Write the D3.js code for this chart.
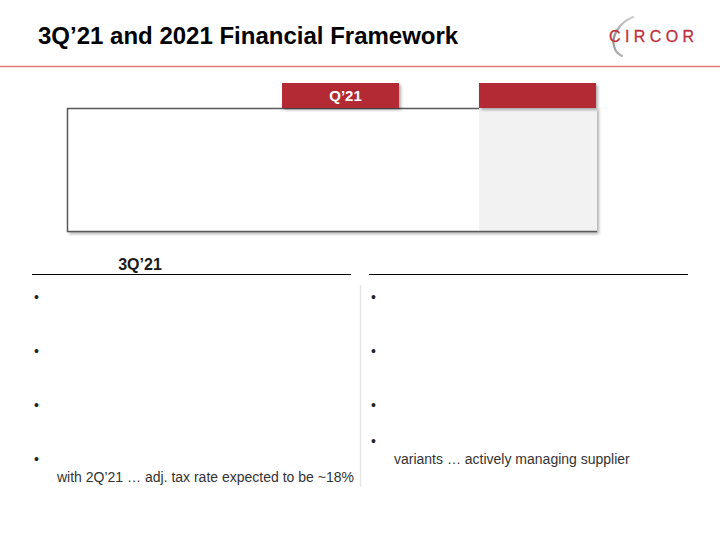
<!DOCTYPE html>
<html>
<head>
<meta charset="utf-8">
<script src="https://cdn.jsdelivr.net/npm/d3@7"></script>
<style>
  body { margin: 0; background: #fff; }
  svg { display: block; }
  text { font-family: Arial, "Liberation Sans", sans-serif; }
</style>
</head>
<body>
<svg width="720" height="540"></svg>
<script>
var title = "3Q\u201921 and 2021 Financial Framework";
var logoText = "CIRCOR";
var tabLabels = ["Q\u201921", ""];
var sectionHeaders = ["3Q\u201921", ""];
// each bullet: number of text lines it takes, and the visible text on its last line
var leftLines = [3, 3, 3, 2];
var leftTexts = ["", "", "", "with 2Q\u201921 \u2026 adj. tax rate expected to be ~18%"];
var rightLines = [3, 3, 2, 2];
var rightTexts = ["", "", "", "variants \u2026 actively managing supplier"];

var svg = d3.select("svg"),
    width = +svg.attr("width"),
    height = +svg.attr("height");

var red = "#b32a35";

var defs = svg.append("defs");
defs.append("filter")
    .attr("id", "shadow")
    .attr("x", "-5%").attr("y", "-5%").attr("width", "110%").attr("height", "120%")
  .append("feDropShadow")
    .attr("dx", 2).attr("dy", 2).attr("stdDeviation", 1.5)
    .attr("flood-color", "#000").attr("flood-opacity", 0.3);

var grad = defs.append("linearGradient")
    .attr("id", "arc").attr("x1", 0).attr("y1", 0).attr("x2", 0).attr("y2", 1);
grad.append("stop").attr("offset", "0%").attr("stop-color", "#d0d0d0");
grad.append("stop").attr("offset", "55%").attr("stop-color", "#8c8c8c");
grad.append("stop").attr("offset", "100%").attr("stop-color", "#b4b4b4");

// title + header rule
svg.append("text")
    .attr("x", 38).attr("y", 44)
    .attr("font-size", "24px").attr("font-weight", "bold")
    .attr("fill", "#000")
    .text(title);

svg.append("line")
    .attr("x1", 0).attr("x2", width)
    .attr("y1", 66.5).attr("y2", 66.5)
    .attr("stroke", "#e37a7a").attr("stroke-width", 1.5);

// logo
svg.append("path")
    .attr("d", "M633,17 C620,22 611,36 614,46 C615,51 618,54 622,56")
    .attr("fill", "none")
    .attr("stroke", "url(#arc)")
    .attr("stroke-width", 2.2)
    .attr("stroke-linecap", "round");

svg.append("text")
    .attr("x", 609).attr("y", 42)
    .attr("font-size", "16px")
    .attr("letter-spacing", "4.4px")
    .attr("fill", "#bd2f3a")
    .attr("stroke", "#bd2f3a").attr("stroke-width", 0.3)
    .text(logoText);

// tabs over the framework box
var tabX = d3.scalePoint().domain(d3.range(tabLabels.length)).range([282, 479]);
var tabW = 117;

var box = { x0: 67, x1: 597, y0: 108, y1: 232 };

svg.append("rect")
    .attr("x", box.x0).attr("y", box.y0)
    .attr("width", box.x1 - box.x0).attr("height", box.y1 - box.y0)
    .attr("fill", "#fff")
    .attr("filter", "url(#shadow)");

var lastX = tabX(tabLabels.length - 1);
svg.append("rect")
    .attr("x", lastX).attr("y", box.y0)
    .attr("width", box.x1 - lastX).attr("height", box.y1 - box.y0)
    .attr("fill", "#f2f2f2");

svg.append("path")
    .attr("d", "M" + lastX + "," + (box.y0 + 0.5) + "H" + (box.x0 + 0.5) +
               "V" + (box.y1 - 0.5) + "H" + box.x1)
    .attr("fill", "none")
    .attr("stroke", "#5a5a5a")
    .attr("stroke-width", 1.5);

var tabs = svg.selectAll("g.tab")
    .data(tabLabels)
  .enter().append("g")
    .attr("class", "tab");

tabs.append("rect")
    .attr("x", function(d, i) { return tabX(i); })
    .attr("y", 83)
    .attr("width", tabW).attr("height", 25)
    .attr("fill", red)
    .attr("filter", "url(#shadow)");

tabs.append("text")
    .attr("x", function(d, i) { return tabX(i) + tabW / 2 + 5; })
    .attr("y", 101)
    .attr("text-anchor", "middle")
    .attr("font-size", "15px").attr("font-weight", "bold")
    .attr("fill", "#fff")
    .text(function(d) { return d; });

// lower two columns
var col = d3.scaleBand().domain(d3.range(2)).range([32, 688]).paddingInner(0.0534);

var heads = svg.selectAll("g.head")
    .data(sectionHeaders)
  .enter().append("g")
    .attr("class", "head");

heads.append("text")
    .attr("x", function(d, i) { return col(i) + 108; })
    .attr("y", 270)
    .attr("text-anchor", "middle")
    .attr("font-size", "16px").attr("font-weight", "bold")
    .attr("fill", "#1a1a1a")
    .text(function(d) { return d; });

heads.append("line")
    .attr("x1", function(d, i) { return col(i); })
    .attr("x2", function(d, i) { return col(i) + col.bandwidth(); })
    .attr("y1", 274.5).attr("y2", 274.5)
    .attr("stroke", "#000").attr("stroke-width", 1);

svg.append("line")
    .attr("x1", 360.5).attr("x2", 360.5)
    .attr("y1", 285).attr("y2", 487)
    .attr("stroke", "#e4e4e4").attr("stroke-width", 1.5);

var lineY = d3.scaleLinear().domain([0, 1]).range([302, 320]);

function bullets(lines, texts, c) {
  var start = 0;
  var items = lines.map(function(n, i) {
    var it = { line: start, n: n, text: texts[i] };
    start += n;
    return it;
  });
  var g = svg.append("g");
  g.selectAll("text.dot")
      .data(items)
    .enter().append("text")
      .attr("class", "dot")
      .attr("x", col(c) + 2)
      .attr("y", function(d) { return lineY(d.line); })
      .attr("font-size", "14px")
      .attr("fill", "#222")
      .text("\u2022");
  g.selectAll("text.txt")
      .data(items)
    .enter().append("text")
      .attr("class", "txt")
      .attr("x", col(c) + 25)
      .attr("y", function(d) { return lineY(d.line + d.n - 1); })
      .attr("font-size", "14px")
      .attr("fill", "#333")
      .text(function(d) { return d.text; });
}

bullets(leftLines, leftTexts, 0);
bullets(rightLines, rightTexts, 1);
</script>
</body>
</html>
